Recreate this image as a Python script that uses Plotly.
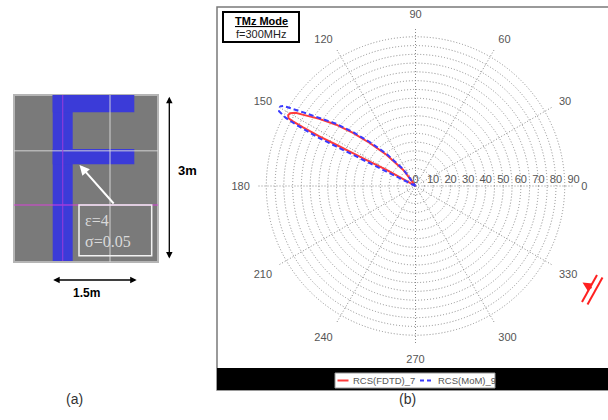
import plotly.graph_objects as go

W, H = 608, 420

# ---------------- data ----------------
# RCS lobe, FDTD result (closed outline, radial scale 0..90)
fdtd_theta = [150.0, 150.5, 151.0, 151.9, 152.3, 152.5, 152.7, 152.5, 152.2, 151.9,
              150.9, 149.9, 148.6, 147.7, 145.1, 142.3, 139.7, 136.8, 132.9, 127.3, 140.0]
fdtd_r = [0.0, 8.3, 18.9, 29.6, 40.3, 50.9, 61.6, 72.5, 79.2, 82.0,
          83.0, 82.6, 80.0, 76.1, 66.8, 57.1, 46.7, 35.8, 24.3, 11.5, 0.0]

# RCS lobe, MoM result
mom_theta = [152.0, 153.8, 153.6, 153.5, 153.5, 153.5, 153.5, 152.8, 152.3, 151.3,
             149.8, 148.8, 148.2, 146.8, 144.7, 141.9, 139.2, 136.2, 132.0, 126.2, 140.0]
mom_r = [0.0, 7.8, 18.4, 29.1, 39.8, 50.5, 61.2, 76.6, 83.4, 88.6,
         90.0, 88.0, 84.6, 76.8, 67.1, 57.4, 47.1, 36.2, 24.7, 11.9, 0.0]

angle_ticks = [0, 30, 60, 90, 120, 150, 180, 210, 240, 270, 300, 330]
radial_ticks = [0, 5, 10, 15, 20, 25, 30, 35, 40, 45, 50, 55, 60, 65, 70, 75, 80, 85, 90]
radial_labels = ["0", "", "10", "", "20", "", "30", "", "40", "", "50", "", "60", "",
                 "70", "", "80", "", "90"]

series_names = ["RCS(FDTD)_7", "RCS(MoM)_9"]
mode_text = "TMz Mode"
freq_text = "f=300MHz"

# ---------------- helpers: pixel -> paper ----------------
def X(px):
    return px / W

def Y(py):
    return 1 - py / H

FONT = "Liberation Sans, Arial, sans-serif"

fig = go.Figure()
fig.add_trace(go.Scatterpolar(
    r=fdtd_r, theta=fdtd_theta, mode="lines", name=series_names[0],
    line=dict(color="#ff3b3b", width=2), showlegend=False))
fig.add_trace(go.Scatterpolar(
    r=mom_r, theta=mom_theta, mode="lines", name=series_names[1],
    line=dict(color="#3a3aff", width=2, dash="5px,3px"), showlegend=False))

shapes = []
annotations = []

def rect(x0, y0, x1, y1, fill=None, line=None, lw=0, layer="above"):
    shapes.append(dict(type="rect", xref="paper", yref="paper",
                       x0=X(x0), x1=X(x1), y0=Y(y1), y1=Y(y0),
                       fillcolor=fill if fill else "rgba(0,0,0,0)",
                       line=dict(color=line if line else "rgba(0,0,0,0)", width=lw),
                       layer=layer))

def seg(x0, y0, x1, y1, color, lw, dash=None):
    d = dict(color=color, width=lw)
    if dash:
        d["dash"] = dash
    shapes.append(dict(type="line", xref="paper", yref="paper",
                       x0=X(x0), x1=X(x1), y0=Y(y0), y1=Y(y1), line=d))

def text(x, y, t, size, color, bold=False, family=FONT, xanchor="center"):
    if bold:
        t = "<b>" + t + "</b>"
    annotations.append(dict(xref="paper", yref="paper", x=X(x), y=Y(y), text=t,
                            showarrow=False, xanchor=xanchor, yanchor="middle",
                            font=dict(size=size, color=color, family=family)))

def arrow(hx, hy, tx, ty, color, lw, head=2, side="end", size=1.0):
    annotations.append(dict(xref="paper", yref="paper", x=X(hx), y=Y(hy),
                            ax=tx - hx, ay=ty - hy, axref="pixel", ayref="pixel",
                            text="", showarrow=True, arrowhead=head, arrowsize=size,
                            arrowwidth=lw, arrowcolor=color, arrowside=side,
                            startarrowhead=head, startarrowsize=size))

# ---------------- panel (a) ----------------
rect(14, 95, 158, 262, fill="#7a7a7a", line="#b5b5b5", lw=2, layer="below")
# F letter
rect(52.7, 95, 72.7, 261, fill="#3b3bd8", layer="below")
rect(52.7, 95, 134.3, 112.3, fill="#3b3bd8", layer="below")
rect(52.7, 149, 134.3, 164.3, fill="#3b3bd8", layer="below")
# grid lines
seg(14, 150.7, 158, 150.7, "rgba(220,220,220,0.6)", 1.5)
seg(110, 95, 110, 262, "rgba(220,220,220,0.6)", 1.5)
seg(14, 205, 158, 205, "rgba(225,60,225,0.9)", 1.2)
seg(62.7, 95, 62.7, 261, "rgba(160,60,220,0.8)", 1.2)
# material box
rect(79, 205, 151.7, 255.7, line="#f2f2f2", lw=1.5)
text(83, 220, "\u03b5=4", 16, "#d9d9d9", family="Liberation Serif, DejaVu Serif, serif", xanchor="left")
text(83, 241.5, "\u03c3=0.05", 16, "#d9d9d9", family="Liberation Serif, DejaVu Serif, serif", xanchor="left")
arrow(79.5, 165, 115, 205, "white", 2, head=2)
# dimension arrows
arrow(169.3, 96.7, 169.3, 260, "black", 1.3, head=2, side="end+start")
arrow(136.7, 280, 51.7, 280, "black", 1.3, head=2, side="end+start")
text(187, 170, "3m", 13, "black", bold=True)
text(87, 293, "1.5m", 12, "black", bold=True)
text(74, 399, "(a)", 14, "#333333")

# ---------------- panel (b) frame ----------------
rect(217, 7, 609, 390, line="#7a7a7a", lw=1.5, layer="below")
rect(217, 368, 609, 390, fill="black", layer="above")
# mode box
rect(223, 12, 299, 42, fill="white", line="black", lw=2)
text(261, 20.5, "<u>" + mode_text + "</u>", 11, "black", bold=True)
text(261, 34, freq_text, 11, "#222222")
# legend inside black bar
rect(335, 373, 495, 388, fill="white", line="#999999", lw=1)
seg(337.5, 380.5, 348.5, 380.5, "#ff3b3b", 2)
text(351, 380.5, series_names[0], 9.5, "#555555", xanchor="left")
seg(420, 380.5, 434, 380.5, "#3a3aff", 2, dash="4px,3px")
text(435.5, 380.5, series_names[1], 9.5, "#555555", xanchor="left")
text(407, 399, "(b)", 14, "#333333")
# incident wave symbol
seg(582, 302, 597, 275, "#ff2020", 2)
seg(587.5, 304.5, 602.5, 277.5, "#ff2020", 2)
arrow(582.5, 282.5, 593, 289, "#ff2020", 2, head=2, size=0.9)

fig.update_layout(
    width=W, height=H,
    margin=dict(l=0, r=0, t=0, b=0),
    paper_bgcolor="white",
    plot_bgcolor="white",
    showlegend=False,
    shapes=shapes,
    annotations=annotations,
    polar=dict(
        domain=dict(x=[257.5 / W, 573.5 / W], y=[1 - 344 / H, 1 - 28 / H]),
        bgcolor="white",
        radialaxis=dict(
            range=[0, 90], tickvals=radial_ticks, ticktext=radial_labels,
            angle=0, side="counterclockwise", showline=False, ticks="",
            gridcolor="#8a8a8a", griddash="1px,2px", gridwidth=1,
            tickfont=dict(size=11, color="#555555", family=FONT)),
        angularaxis=dict(
            tickvals=angle_ticks, direction="counterclockwise", rotation=0,
            showline=False, ticks="outside", ticklen=5,
            tickcolor="rgba(0,0,0,0)",
            gridcolor="#8a8a8a", griddash="1px,2px", gridwidth=1,
            tickfont=dict(size=11, color="#555555", family=FONT)),
    ),
)

fig.write_html("out.html", config={"displayModeBar": False},
               post_script="document.body.style.margin='0';document.body.style.padding='0';")
